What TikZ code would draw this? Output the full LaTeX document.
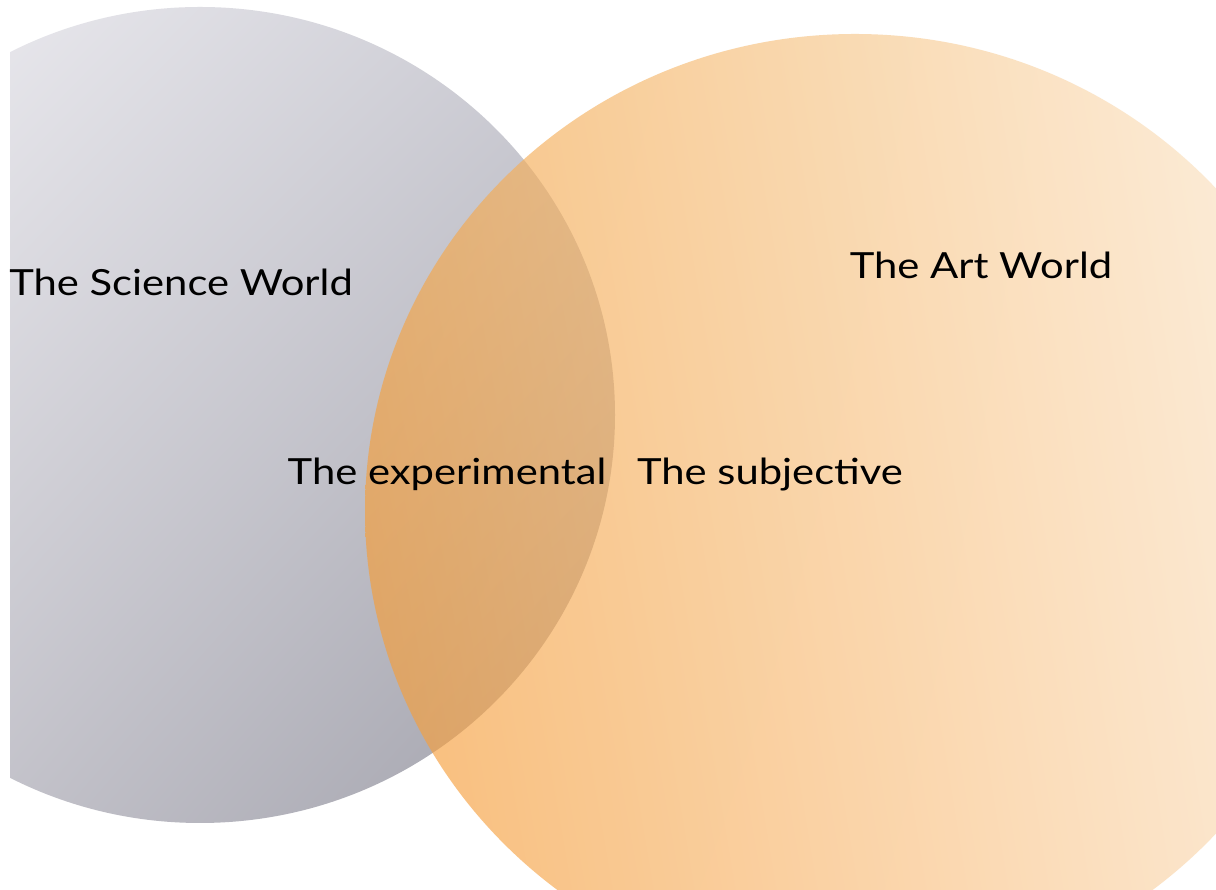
\documentclass[tikz,border=0pt]{standalone}
\usepackage{fontspec}
\setmainfont{Lato}
\usetikzlibrary{shadings}
\begin{document}
% colours of the two discs
\definecolor{scTL}{RGB}{242,241,245}
\definecolor{scTR}{RGB}{202,202,210}
\definecolor{scBL}{RGB}{206,205,212}
\definecolor{scBR}{RGB}{160,160,170}
\definecolor{arTL}{RGB}{243,165,70}
\definecolor{arBL}{RGB}{246,152,48}
\definecolor{arTR}{RGB}{251,235,212}
\definecolor{arBR}{RGB}{251,224,192}
\begin{tikzpicture}[x=1pt,y=1pt,
  worldlabel/.style={inner sep=0pt, anchor=base, text=black,
    font=\fontsize{36}{42}\selectfont, xscale=1.16, transform shape}]
\useasboundingbox (0,0) rectangle (1216,890);
\fill[white] (0,0) rectangle (1216,890);
% science disc (grey), cut at the left margin
\begin{scope}
  \clip (10,0) rectangle (1216,890);
  \shade[upper left=scTL, upper right=scTR, lower left=scBL, lower right=scBR]
    (200,475) ellipse [x radius=415, y radius=408];
\end{scope}
% art disc (orange), translucent over the grey one
\begin{scope}
  \clip (0,0) rectangle (1216,890);
  \shade[upper left=arTL, upper right=arTR, lower left=arBL, lower right=arBR,
    fill opacity=0.66, opacity=0.66]
    (855,379) ellipse [x radius=490, y radius=477];
\end{scope}
% labels
\node[worldlabel] (science) at (181,594) {The Science World};
\node[worldlabel] (art) at (981,611) {The Art World};
\node[worldlabel] (experimental) at (447,405) {The experimental};
\node[worldlabel] (subjective) at (770,405) {The subjective};
\end{tikzpicture}
\end{document}
